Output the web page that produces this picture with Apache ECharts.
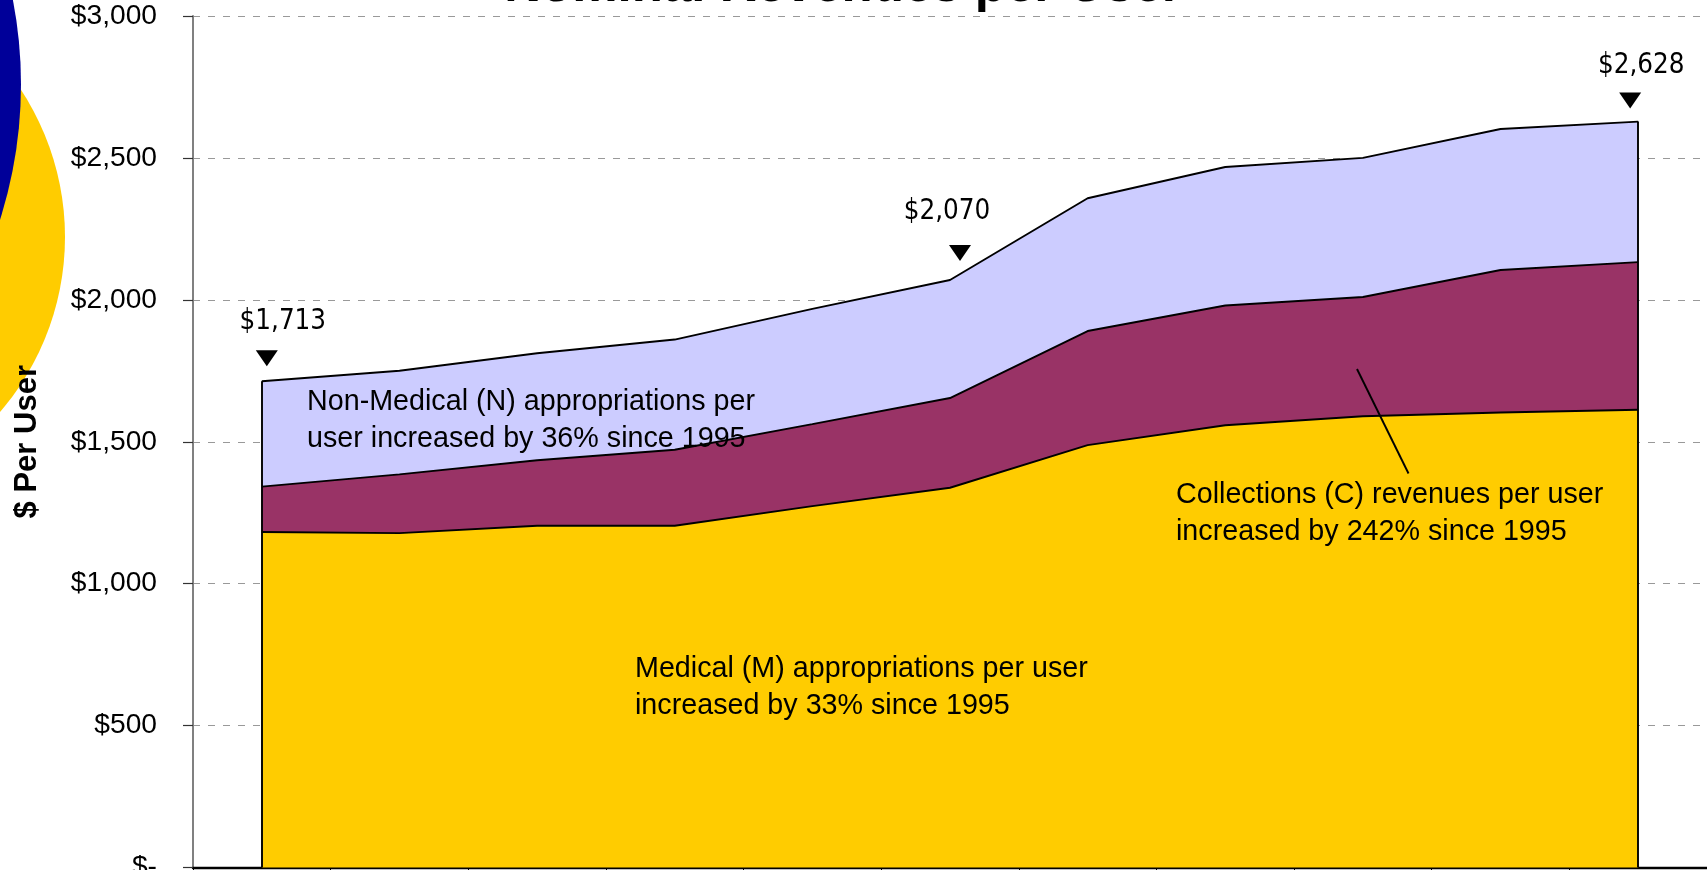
<!DOCTYPE html>
<html>
<head>
<meta charset="utf-8">
<script src="https://cdn.jsdelivr.net/npm/echarts@6/dist/echarts.min.js"></script>
<style>
html,body{margin:0;padding:0;background:#ffffff;}
#chart{width:1707px;height:870px;}
</style>
</head>
<body>
<div id="chart"></div>
<script>
// ---- data ----
const years = ['1995','1996','1997','1998','1999','2000','2001','2002','2003','2004','2005'];
const medical     = [1182, 1178, 1204, 1204, 1273, 1338, 1488, 1558, 1590, 1603, 1613];
const collections = [ 160,  207,  231,  268,  289,  316,  402,  422,  420,  502,  520];
const nonMedical  = [ 371,  365,  377,  388,  406,  416,  468,  488,  490,  497,  495];
const yMin = 0, yMax = 3000, yStep = 500;
const calloutIndex = [0, 5, 10];

const titleText = 'Nominal Revenues per User';
const yAxisTitle = '$ Per User';
const noteNonMedical = 'Non-Medical (N) appropriations per\nuser increased by 36% since 1995';
const noteMedical = 'Medical (M) appropriations per user\nincreased by 33% since 1995';
const noteCollections = 'Collections (C) revenues per user\nincreased by 242% since 1995';

// ---- helpers ----
const totals = years.map((_, i) => medical[i] + collections[i] + nonMedical[i]);
const money = v => v === 0 ? '$-' : '$' + v.toLocaleString('en-US');
const FONT = '"Liberation Sans", Arial, sans-serif';
const NARROW = '"Liberation Sans Narrow", "DejaVu Sans Condensed", sans-serif';

// per-callout placement of triangle/label (offsets relative to the data point)
const calloutStyle = [
  { sym: [5, -23], lab: [21, -36] },
  { sym: [10, -27], lab: [-3, -41] },
  { sym: [-8, -21], lab: [3, -35] }
];

const areaLine = { color: '#000000', width: 1.9 };

const chart = echarts.init(document.getElementById('chart'), null, { renderer: 'canvas' });

chart.setOption({
  animation: false,
  backgroundColor: '#ffffff',
  grid: { left: 193, right: 0, top: 16, bottom: 2.5, containLabel: false, outerBoundsMode: 'none' },
  xAxis: {
    type: 'category',
    data: years,
    boundaryGap: true,
    axisLine: { show: true, lineStyle: { color: '#000000', width: 2.4 } },
    axisTick: { show: true, length: 8, lineStyle: { color: '#000000', width: 1 } },
    axisLabel: { show: true, fontFamily: FONT, fontSize: 28, color: '#000', margin: 14 },
    splitLine: { show: false }
  },
  yAxis: {
    type: 'value',
    min: yMin, max: yMax, interval: yStep,
    name: yAxisTitle,
    nameLocation: 'middle',
    nameRotate: 90,
    nameGap: 150,
    nameTextStyle: { fontFamily: FONT, fontSize: 31, fontWeight: 'bold', color: '#000' },
    axisLine: { show: true, lineStyle: { color: '#808080', width: 2 } },
    axisTick: { show: true, length: 10, lineStyle: { color: '#333333', width: 1.2 } },
    axisLabel: { fontFamily: FONT, fontSize: 28.2, color: '#000', margin: 36, formatter: money },
    splitLine: { show: true, lineStyle: { color: '#999999', width: 1.2, type: [7, 8] } }
  },
  series: [
    {
      name: 'Medical (M)',
      type: 'line', stack: 'rev', data: medical,
      symbol: 'none', lineStyle: areaLine,
      areaStyle: { color: '#FFCC00', opacity: 1 },
      z: 2
    },
    {
      name: 'Collections (C)',
      type: 'line', stack: 'rev', data: collections,
      symbol: 'none', lineStyle: areaLine,
      areaStyle: { color: '#993366', opacity: 1 },
      z: 2
    },
    {
      name: 'Non-Medical (N)',
      type: 'line', stack: 'rev', data: nonMedical,
      symbol: 'none', lineStyle: areaLine,
      areaStyle: { color: '#CCCCFF', opacity: 1 },
      z: 2,
      markLine: {
        silent: true, symbol: ['none', 'none'], animation: false,
        lineStyle: { color: '#000000', width: 1.9, type: 'solid' },
        label: { show: false },
        data: [
          [{ coord: [0, 0] }, { coord: [0, totals[0]] }],
          [{ coord: [years.length - 1, 0] }, { coord: [years.length - 1, totals[years.length - 1]] }]
        ]
      },
      markPoint: {
        silent: true, animation: false,
        data: calloutIndex.map((idx, k) => ({
          coord: [idx, totals[idx]],
          value: totals[idx],
          symbol: 'triangle',
          symbolRotate: 180,
          symbolSize: [22, 16],
          symbolOffset: calloutStyle[k].sym,
          itemStyle: { color: '#000000' },
          label: {
            show: true, position: 'inside',
            offset: [calloutStyle[k].lab[0] - calloutStyle[k].sym[0], calloutStyle[k].lab[1]],
            formatter: p => money(p.value),
            fontFamily: NARROW, fontSize: 27.5, color: '#000'
          }
        }))
      }
    }
  ],
  graphic: [
    { type: 'circle', z: -10, silent: true, shape: { cx: -203, cy: 237, r: 268 }, style: { fill: '#FFCC00' } },
    { type: 'circle', z: -9, silent: true, shape: { cx: -425, cy: 84.5, r: 446 }, style: { fill: '#000099' } },
    { type: 'text', z: 100, silent: true, x: 843, y: -13,
      style: { text: titleText, fontFamily: FONT, fontSize: 51, fontWeight: 'bold', fill: '#000', align: 'center', verticalAlign: 'middle' } },
    { type: 'text', z: 100, silent: true, x: 307, y: 384,
      style: { text: noteNonMedical, fontFamily: FONT, fontSize: 28.7, lineHeight: 36.7, fill: '#000', align: 'left', verticalAlign: 'top' } },
    { type: 'text', z: 100, silent: true, x: 635, y: 651,
      style: { text: noteMedical, fontFamily: FONT, fontSize: 28.7, lineHeight: 36.7, fill: '#000', align: 'left', verticalAlign: 'top' } },
    { type: 'text', z: 100, silent: true, x: 1176, y: 477,
      style: { text: noteCollections, fontFamily: FONT, fontSize: 28.7, lineHeight: 36.7, fill: '#000', align: 'left', verticalAlign: 'top' } },
    { type: 'line', z: 100, silent: true, shape: { x1: 1357, y1: 369, x2: 1408.5, y2: 473.5 },
      style: { stroke: '#000000', lineWidth: 1.9 } }
  ]
});
</script>
</body>
</html>
